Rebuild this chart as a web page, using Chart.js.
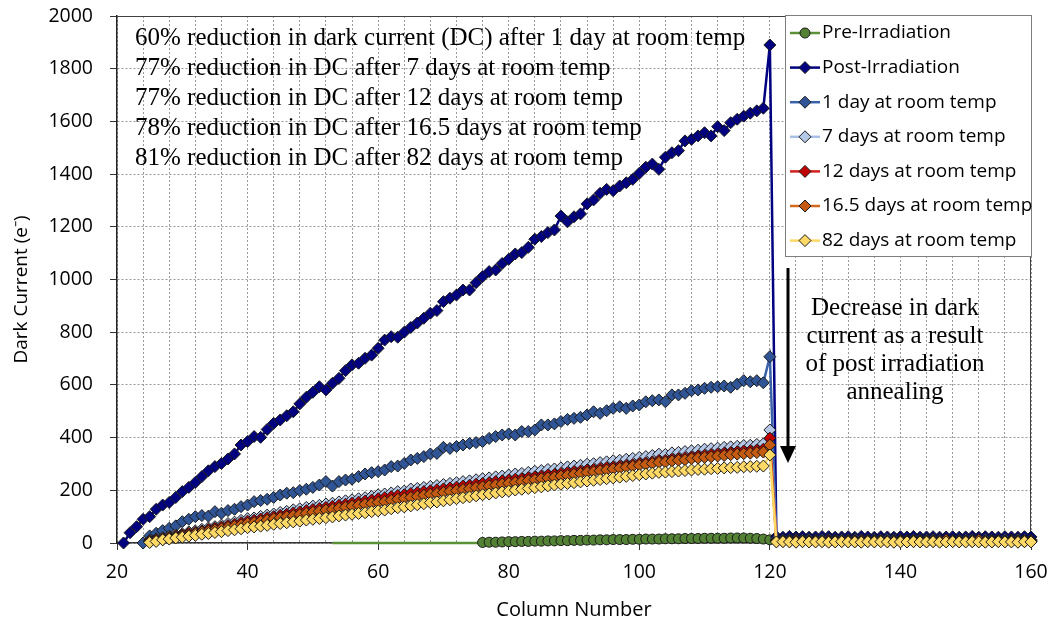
<!DOCTYPE html>
<html lang="en">
<head>
<meta charset="UTF-8">
<title>Dark Current vs Column Number</title>
<script src="https://cdn.jsdelivr.net/npm/chart.js"></script>
<style>
  body { margin: 0; background: #ffffff; }
  #wrap { width: 1053px; height: 622px; }
</style>
</head>
<body>
<div id="wrap"><canvas id="dcChart" width="1053" height="622"></canvas></div>
<script>
// --- data (column number -> dark current in e-) ---
// pre-irradiation: flat zero line from col 53, markers from col 76 to 120
const preStart = 53;
const preMarkerStart = 76;
const preValues = [0,0,0,0,0,0,0,0,0,0, 0,0,0,0,0,0,0,0,0,0, 0,0,0,
  2,3,3,4,5,5,6,6,7,7, 8,8,9,9,10,10,11,11,12,12, 13,13,13,14,14,15,15,15,16,16,
  16,17,17,17,18,18,18,18,19,19, 19,18,17,15,12];

// post-irradiation, cols 21..120 then 121..160
const postStart = 21;
const postMain = [0,39,62,90,100,128,144,154,173,195,
  211,230,252,274,290,302,319,338,372,385,
  404,401,431,454,467,483,498,528,553,572,
  593,581,606,625,654,676,682,701,713,739,
  770,783,781,800,818,835,
  853,872,882,916,929,941,960,960,988,1011,
  1030,1036,1061,1077,1097,1102,1122,1153,1163,1178,
  1188,1241,1219,1238,1249,1287,1302,1327,1342,1337,
  1355,1367,1380,1403,1426,1438,1418,1464,1481,1489,
  1526,1532,1545,1557,1545,1580,1565,1595,1608,1620,
  1631,1640,1650,1890];
const postTail = [24,22,25,23,24,22,23,25,24,22, 23,24,22,25,23,22,24,23,22,24,
  23,25,22,23,24,22,23,24,22,23, 25,22,24,23,22,24,23,22,24,23];

// 1 day at room temp, cols 24..120
const oneDayStart = 24;
const oneDayMain = [0,27,37,47,56,65,81,90,100,104,
  102,119,113,123,128,138,144,157,161,166,
  173,182,189,191,199,204,211,220,233,216,
  233,239,242,252,262,267,271,277,290,292,
  302,
  315,321,328,338,340,363,359,366,372,378,
  381,385,397,404,410,414,410,423,423,429,
  448,448,452,461,469,473,477,486,498,492,
  502,511,517,511,520,524,536,540,543,536,
  562,562,568,578,581,587,591,593,596,591,
  603,616,612,616,608,
  707];
const oneDayTail = [15,13,14,15,13,14,12,14,15,13, 14,13,15,14,12,14,13,15,14,13,
  12,14,13,14,15,13,14,12,13,14, 15,13,14,13,12,14,13,14,13,12];

// 7, 12, 16.5 and 82 days at room temp, cols 25..120
const annealStart = 25;
const sevenDayMain = [10,16,20,26,31,35,42,46,52,57,
  62,68,74,79,86,92,95,101,106,110,
  116,120,126,130,135,140,143,148,151,156,
  160,164,168,172,177,183,186,190,195,197,
  205,207,211,215,218,222,226,229,233,236,
  240,244,247,251,254,258,262,264,268,272,
  275,279,281,285,289,292,295,299,301,305,
  308,312,314,318,321,325,328,332,337,336,
  342,344,347,350,352,356,358,360,363,365,
  367,370,371,374,376,429];
const sevenDayTail = [9,8,10,9,8,9,10,8,9,9, 8,10,9,8,9,9,10,8,9,8,
  9,10,9,8,9,8,10,9,9,8, 9,10,8,9,9,8,9,10,8,9];

const twelveDayMain = [8,13,17,22,27,31,37,41,46,51,
  56,61,66,71,77,83,86,91,96,100,
  105,109,114,118,123,127,131,135,139,143,
  147,151,155,159,163,168,172,176,180,183,
  188,191,195,198,202,205,209,212,216,219,
  223,226,229,233,236,239,242,244,248,251,
  254,258,260,264,267,271,273,277,279,283,
  286,289,292,295,298,302,305,308,313,314,
  318,321,324,327,330,333,336,338,341,343,
  346,349,350,353,356,398];
const twelveDayTail = [8,7,8,9,7,8,8,7,9,8, 7,8,8,9,7,8,8,7,8,9,
  8,7,8,8,9,7,8,8,7,8, 9,8,7,8,8,7,9,8,8,7];

const sixteenDayMain = [5,9,13,18,22,27,31,36,41,45,
  50,54,59,64,69,75,78,83,87,92,
  96,100,104,108,113,117,121,125,128,132,
  136,140,143,147,150,154,157,162,166,169,
  173,177,181,185,188,192,196,199,203,206,
  210,213,217,220,224,227,230,233,237,240,
  244,247,250,254,257,261,264,268,270,274,
  277,281,284,288,291,295,298,302,306,307,
  311,314,316,320,322,325,327,330,332,335,
  337,339,341,343,345,372];
const sixteenDayTail = [6,7,6,5,7,6,6,7,5,6, 7,6,6,5,7,6,7,6,5,6,
  6,7,6,5,6,6,11,6,5,7, 6,11,6,5,6,7,6,6,5,7];

const eightyTwoDayMain = [2,6,12,15,19,22,26,29,33,36,
  40,43,47,50,54,58,61,64,67,71,
  74,77,80,83,87,90,93,96,99,103,
  106,109,112,115,119,122,125,130,134,137,
  141,145,149,153,156,160,164,168,172,175,
  179,183,186,190,194,197,201,204,207,210,
  213,217,220,223,226,229,232,235,238,241,
  244,247,250,253,256,259,262,265,268,269,
  271,273,275,277,279,280,282,283,285,286,
  287,289,290,291,292,334];
const eightyTwoDayTail = [4,5,4,3,5,4,4,5,3,4, 5,4,4,3,5,4,5,4,3,4,
  4,5,4,4,5,3,4,5,4,4, 5,4,3,4,5,4,4,3,5,4];

const seriesNames = ['Pre-Irradiation', 'Post-Irradiation', '1 day at room temp',
  '7 days at room temp', '12 days at room temp', '16.5 days at room temp', '82 days at room temp'];
const lineColors = ['#5b9136', '#000080', '#3a62a8', '#a9c0e6', '#d21f1f', '#d2691e', '#ffd966'];
const fillColors = ['#548235', '#000080', '#2f5597', '#b4c7e7', '#c00000', '#c55a11', '#ffd966'];

const notes = [
  '60% reduction in dark current (DC) after 1 day at room temp',
  '77% reduction in DC after 7 days at room temp',
  '77% reduction in DC after 12 days at room temp',
  '78% reduction in DC after 16.5 days at room temp',
  '81% reduction in DC after 82 days at room temp'
];
const arrowNote = ['Decrease in dark', 'current as a result', 'of post irradiation', 'annealing'];
const yTitle = 'Dark Current (e\u207B)';

function toPoints(start, values) {
  return values.map((v, i) => ({ x: start + i, y: v }));
}

const seriesPoints = [
  toPoints(preStart, preValues),
  toPoints(postStart, postMain.concat(postTail)),
  toPoints(oneDayStart, oneDayMain.concat(oneDayTail)),
  toPoints(annealStart, sevenDayMain.concat(sevenDayTail)),
  toPoints(annealStart, twelveDayMain.concat(twelveDayTail)),
  toPoints(annealStart, sixteenDayMain.concat(sixteenDayTail)),
  toPoints(annealStart, eightyTwoDayMain.concat(eightyTwoDayTail))
];

const diamondR = 6;
const circleR = 5;

const datasets = seriesPoints.map((pts, i) => ({
  label: seriesNames[i],
  data: pts,
  borderColor: lineColors[i],
  backgroundColor: fillColors[i],
  borderWidth: 2.5,
  pointStyle: i === 0 ? 'circle' : 'rectRot',
  pointRadius: i === 0 ? (c => (c.raw && c.raw.x < preMarkerStart) ? 0 : circleR) : diamondR,
  pointBackgroundColor: fillColors[i],
  pointBorderColor: '#1a1a1a',
  pointBorderWidth: 1,
  tension: 0,
  clip: false,
  order: 7 - i
}));

const sansFont = "'Open Sans', 'Liberation Sans', sans-serif";
const serifFont = "'Liberation Serif', 'DejaVu Serif', serif";

function drawMarker(ctx, style, x, y, r) {
  ctx.beginPath();
  if (style === 'circle') {
    ctx.arc(x, y, r, 0, Math.PI * 2);
  } else {
    ctx.moveTo(x - r, y);
    ctx.lineTo(x, y - r);
    ctx.lineTo(x + r, y);
    ctx.lineTo(x, y + r);
    ctx.closePath();
  }
  ctx.fill();
  ctx.stroke();
}

// plot frame, notes, arrow, y title and boxed legend
const extras = {
  id: 'extras',
  beforeDatasetsDraw(chart) {
    const { ctx, chartArea: a } = chart;
    ctx.save();
    ctx.strokeStyle = '#404040';
    ctx.lineWidth = 1;
    ctx.beginPath();
    ctx.moveTo(a.left, a.top + 0.5);
    ctx.lineTo(a.right, a.top + 0.5);
    ctx.moveTo(a.right - 0.5, a.top);
    ctx.lineTo(a.right - 0.5, a.bottom);
    ctx.stroke();

    ctx.translate(22, (a.top + a.bottom) / 2 + 10);
    ctx.rotate(-Math.PI / 2);
    ctx.fillStyle = '#000';
    ctx.font = '19px ' + sansFont;
    ctx.textAlign = 'center';
    ctx.textBaseline = 'middle';
    ctx.fillText(yTitle, 0, 0);
    ctx.restore();
  },
  afterDatasetsDraw(chart) {
    const { ctx, chartArea: a } = chart;
    ctx.save();
    ctx.fillStyle = '#000';
    ctx.font = '25px ' + serifFont;
    ctx.textBaseline = 'middle';
    ctx.textAlign = 'left';
    notes.forEach((t, i) => ctx.fillText(t, a.left + 18, a.top + 22 + i * 30));

    ctx.textAlign = 'center';
    arrowNote.forEach((t, i) => ctx.fillText(t, a.left + 778, a.top + 292 + i * 28));

    // arrow
    const ax = a.left + 671;
    ctx.strokeStyle = '#000';
    ctx.lineWidth = 3;
    ctx.beginPath();
    ctx.moveTo(ax, a.top + 252);
    ctx.lineTo(ax, a.top + 432);
    ctx.stroke();
    ctx.beginPath();
    ctx.moveTo(ax - 8, a.top + 430);
    ctx.lineTo(ax + 8, a.top + 430);
    ctx.lineTo(ax, a.top + 447);
    ctx.closePath();
    ctx.fill();
    ctx.restore();
  },
  afterDraw(chart) {
    const { ctx, chartArea: a } = chart;
    const bx = a.right - 246, by = a.top - 1, bw = 247, bh = 242;
    ctx.save();
    ctx.fillStyle = '#fff';
    ctx.fillRect(bx, by, bw, bh);
    ctx.strokeStyle = '#7f7f7f';
    ctx.lineWidth = 1;
    ctx.strokeRect(bx + 0.5, by + 0.5, bw - 1, bh - 1);
    ctx.font = '19px ' + sansFont;
    ctx.textBaseline = 'middle';
    ctx.textAlign = 'left';
    datasets.forEach((d, i) => {
      const y = by + 18 + i * 34.6;
      ctx.strokeStyle = d.borderColor;
      ctx.lineWidth = 2.5;
      ctx.beginPath();
      ctx.moveTo(bx + 5, y);
      ctx.lineTo(bx + 35, y);
      ctx.stroke();
      ctx.fillStyle = d.pointBackgroundColor;
      ctx.strokeStyle = '#1a1a1a';
      ctx.lineWidth = 1;
      drawMarker(ctx, d.pointStyle, bx + 20, y, i === 0 ? circleR : diamondR);
      ctx.fillStyle = '#000';
      ctx.fillText(d.label, bx + 37, y);
    });
    ctx.restore();
  }
};

new Chart(document.getElementById('dcChart'), {
  type: 'line',
  data: { datasets: datasets },
  options: {
    responsive: false,
    animation: false,
    events: [],
    layout: { autoPadding: false, padding: { left: 0, right: 22, top: 16, bottom: 0 } },
    plugins: { legend: { display: false }, tooltip: { enabled: false } },
    scales: {
      x: {
        type: 'linear',
        min: 20,
        max: 160,
        afterFit: s => { s.height = 79; s.paddingLeft = 0; s.paddingRight = 0; },
        ticks: {
          stepSize: 4,
          autoSkip: false,
          maxRotation: 0,
          padding: 11,
          color: '#000',
          font: { family: sansFont, size: 19.5 },
          callback: v => (v % 20 === 0 ? String(v) : '')
        },
        grid: {
          color: '#999999',
          lineWidth: 1,
          tickLength: 7,
          tickColor: c => (c.tick && c.tick.value % 20 === 0) ? '#333' : 'rgba(0,0,0,0)',
          tickBorderDash: []
        },
        border: { color: '#333', width: 1.5, dash: [2, 2] },
        title: {
          display: true,
          text: 'Column Number',
          color: '#000',
          font: { family: sansFont, size: 20 },
          padding: { top: 0, bottom: 0 }
        }
      },
      y: {
        min: 0,
        max: 2000,
        afterFit: s => { s.width = 117; s.paddingTop = 0; s.paddingBottom = 0; },
        ticks: {
          stepSize: 200,
          padding: 17,
          color: '#000',
          font: { family: sansFont, size: 19.5 },
          callback: v => String(v)
        },
        grid: {
          color: '#999999',
          lineWidth: 1,
          tickLength: 7,
          tickColor: '#333',
          tickBorderDash: []
        },
        border: { color: '#222', width: 1.5, dash: [2, 2] }
      }
    }
  },
  plugins: [extras]
});
</script>
</body>
</html>
